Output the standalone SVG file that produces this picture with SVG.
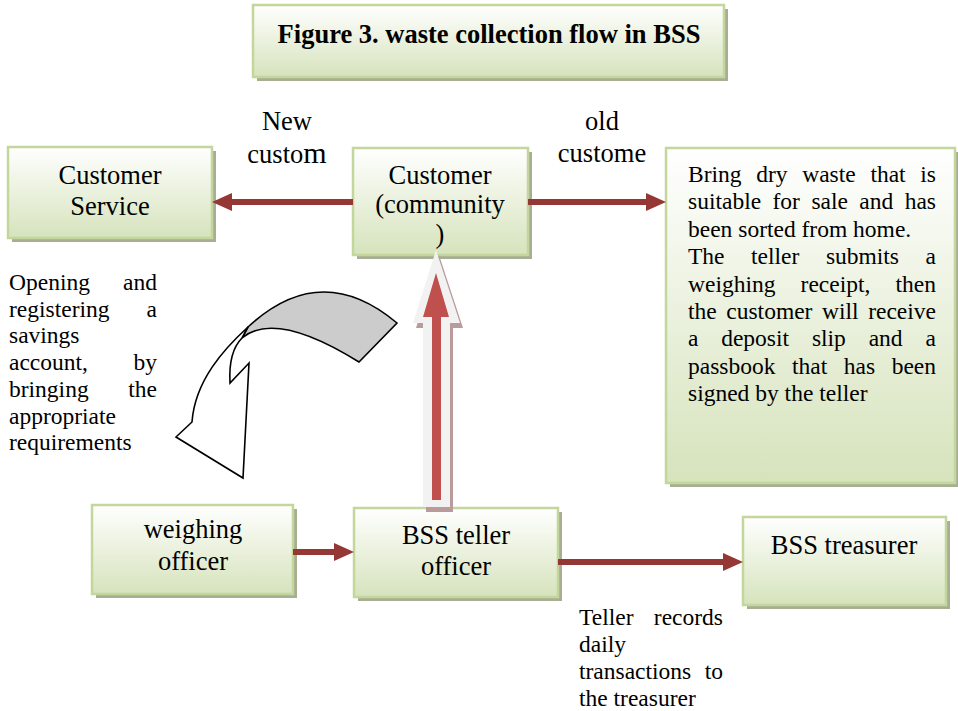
<svg xmlns="http://www.w3.org/2000/svg" width="958" height="711" viewBox="0 0 958 711">
<defs>
<linearGradient id="g" x1="0" y1="0" x2="0" y2="1">
<stop offset="0" stop-color="#ffffff"/>
<stop offset="1" stop-color="#d6e3bc"/>
</linearGradient>
<marker id="ah" viewBox="0 0 20 18" refX="1" refY="9" markerWidth="20" markerHeight="18" markerUnits="userSpaceOnUse" orient="auto">
<path d="M0,0 L20,9 L0,18 Z" fill="#953735"/>
</marker>
</defs>
<style>
.box{fill:url(#g);stroke:#c3d69b;stroke-width:2.5}
.sh{fill:#a7ae93}
text{font-family:"Liberation Serif","Times New Roman",serif;fill:#000}
.lbl{font-size:26.5px;text-anchor:middle}
.ttl{font-size:26.5px;font-weight:bold;text-anchor:middle}
.desc{font-size:23.5px}
.e{text-anchor:end}
.conn{stroke:#953735;stroke-width:6;fill:none}
</style>
<rect width="958" height="711" fill="#ffffff"/>

<g id="title">
<rect class="sh" x="257" y="9" width="471" height="72"/>
<rect class="box" x="253" y="5" width="471" height="72"/>
<text class="ttl" x="489" y="42.5">Figure 3. waste collection flow in BSS</text>
</g>

<g id="customer-service">
<rect class="sh" x="12" y="151" width="204" height="91"/>
<rect class="box" x="8" y="147" width="204" height="91"/>
<text class="lbl" x="110" y="184">Customer</text>
<text class="lbl" x="110" y="215">Service</text>
</g>

<g id="customer">
<rect class="sh" x="357" y="152" width="175" height="107"/>
<rect class="box" x="353" y="148" width="175" height="107"/>
<text class="lbl" x="440" y="183.5">Customer</text>
<text class="lbl" x="440" y="213">(community</text>
<text class="lbl" x="440" y="243">)</text>
</g>

<g id="info">
<rect class="sh" x="670" y="152" width="289" height="335"/>
<rect class="box" x="666" y="148" width="289" height="335"/>
<text class="desc" y="182"><tspan x="688">Bring</tspan><tspan x="756.2">dry</tspan><tspan x="802.2">waste</tspan><tspan x="870.4">that</tspan><tspan x="936" class="e">is</tspan></text>
<text class="desc" y="209.4"><tspan x="688">suitable</tspan><tspan x="772.5">for</tspan><tspan x="811.4">sale</tspan><tspan x="859.3">and</tspan><tspan x="936" class="e">has</tspan></text>
<text class="desc" x="688" y="236.8">been sorted from home.</text>
<text class="desc" y="264.2"><tspan x="688">The</tspan><tspan x="751.1">teller</tspan><tspan x="825.9">submits</tspan><tspan x="936" class="e">a</tspan></text>
<text class="desc" y="291.6"><tspan x="688">weighing</tspan><tspan x="800.6">receipt,</tspan><tspan x="936" class="e">then</tspan></text>
<text class="desc" y="319"><tspan x="688">the</tspan><tspan x="726.3">customer</tspan><tspan x="822">will</tspan><tspan x="936" class="e">receive</tspan></text>
<text class="desc" y="346.4"><tspan x="688">a</tspan><tspan x="721.2">deposit</tspan><tspan x="811.9">slip</tspan><tspan x="868.7">and</tspan><tspan x="936" class="e">a</tspan></text>
<text class="desc" y="373.8"><tspan x="688">passbook</tspan><tspan x="792">that</tspan><tspan x="843.8">has</tspan><tspan x="936" class="e">been</tspan></text>
<text class="desc" x="688" y="401.2">signed by the teller</text>
</g>

<g id="weighing-officer">
<rect class="sh" x="96" y="509" width="201" height="89"/>
<rect class="box" x="92" y="505" width="201" height="89"/>
<text class="lbl" x="193" y="538">weighing</text>
<text class="lbl" x="193" y="569.5">officer</text>
</g>

<g id="teller">
<rect class="sh" x="358" y="512" width="204" height="89"/>
<rect class="box" x="354" y="508" width="204" height="89"/>
<text class="lbl" x="456" y="543.5">BSS teller</text>
<text class="lbl" x="456" y="575">officer</text>
</g>

<g id="treasurer">
<rect class="sh" x="747" y="521" width="203" height="88"/>
<rect class="box" x="743" y="517" width="203" height="88"/>
<text class="lbl" x="844" y="553.5">BSS treasurer</text>
</g>

<g id="note-opening">
<text class="desc" y="290"><tspan x="9">Opening</tspan><tspan x="157" class="e">and</tspan></text>
<text class="desc" y="316.7"><tspan x="9">registering</tspan><tspan x="157" class="e">a</tspan></text>
<text class="desc" x="9" y="343.4">savings</text>
<text class="desc" y="370.1"><tspan x="9">account,</tspan><tspan x="157" class="e">by</tspan></text>
<text class="desc" y="396.8"><tspan x="9">bringing</tspan><tspan x="157" class="e">the</tspan></text>
<text class="desc" x="9" y="423.5">appropriate</text>
<text class="desc" x="9" y="450.2">requirements</text>
</g>

<g id="note-teller">
<text class="desc" y="625"><tspan x="579">Teller</tspan><tspan x="723" class="e">records</tspan></text>
<text class="desc" x="579" y="652">daily</text>
<text class="desc" y="679"><tspan x="579">transactions</tspan><tspan x="723" class="e">to</tspan></text>
<text class="desc" x="579" y="706">the treasurer</text>
</g>

<g id="connectors">
<line class="conn" x1="353" y1="202" x2="231" y2="202" marker-end="url(#ah)"/>
<line class="conn" x1="528" y1="202" x2="647" y2="202" marker-end="url(#ah)"/>
<line class="conn" x1="293" y1="552" x2="335" y2="552" marker-end="url(#ah)"/>
<line class="conn" x1="558" y1="562" x2="724" y2="562" marker-end="url(#ah)"/>
<text class="lbl" x="287" y="130">New</text>
<text class="lbl" x="287" y="163">custo<tspan style="font-size:30px">m</tspan></text>
<text class="lbl" x="602" y="130">old</text>
<text class="lbl" x="602" y="162">custome</text>
<g id="up-arrow">
<polygon points="439,255 463,328 453,328 453,512 426,512 426,328 416,328" fill="#b99b9b"/>
<polygon points="436,250 460,323 450,323 450,507 423,507 423,323 413,323" fill="#f2f2f2"/>
<polygon points="436,273 449,317 441,317 441,500 432,500 432,317 423,317" fill="#c0504d"/>
</g>
<g id="curved-arrow" stroke="#000" stroke-width="1.6" stroke-linejoin="miter">
<path d="M397,323 Q321,259 248,327 L242,338 Q275.5,310 359,362 Z" fill="#cccccc"/>
<path d="M248,327 C225,348 195,380 192,422 L176,437 L243,478 L249,363 L230,383 C229,365 232,348 242,338 Z" fill="#ffffff"/>
</g>
</g>
</svg>
